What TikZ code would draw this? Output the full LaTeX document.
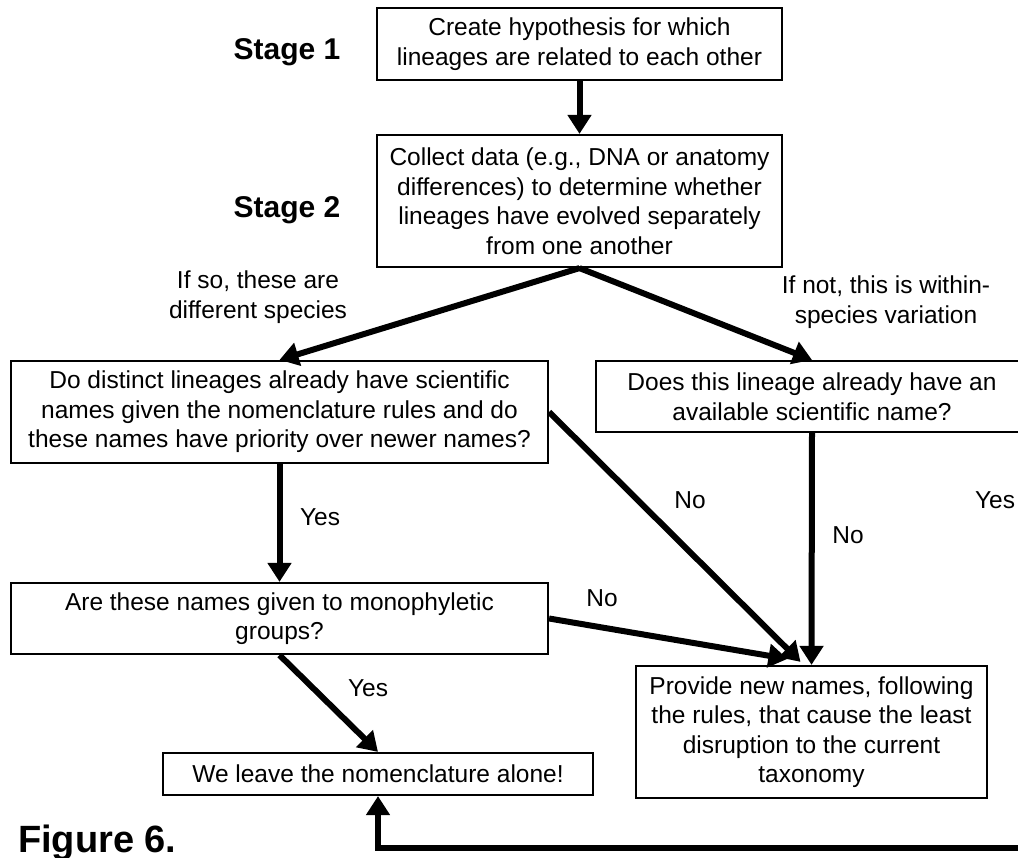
\documentclass[tikz,border=0pt]{standalone}
\usepackage{fontspec}
\setmainfont{Liberation Sans}
\usetikzlibrary{arrows.meta,calc}
\begin{document}
\begin{tikzpicture}[x=1pt,y=-1pt,
  box/.style={draw,line width=2.2pt,inner sep=0pt,align=center,
    font=\fontsize{24.5}{29.5}\selectfont},
  flow/.style={line width=6pt,-{Triangle[width=23pt,length=19pt]}},
  lbl/.style={align=center,inner sep=0pt,font=\fontsize{24.5}{29.5}\selectfont},
  stagelbl/.style={inner sep=0pt,font=\fontsize{30}{36}\selectfont\bfseries}]
\useasboundingbox (0,0) rectangle (1018,858);
\clip (0,0) rectangle (1018,858);
\fill[white] (0,0) rectangle (1018,858);

% stage headings
\node[stagelbl] (s1) at (287,52) {Stage 1};
\node[stagelbl] (s2) at (287,210) {Stage 2};
\node[inner sep=0pt,anchor=base west,font=\fontsize{38}{44}\selectfont\bfseries] (fig) at (18,852) {Figure 6.};

% boxes
\node[box,minimum width=405pt,minimum height=72pt] (b1) at (579.5,44)
  {Create hypothesis for which\\lineages are related to each other};
\node[box,minimum width=405pt,minimum height=132pt] (b2) at (579.5,201)
  {Collect data (e.g., DNA or anatomy\\differences) to determine whether\\lineages have evolved separately\\from one another};
\node[box,minimum width=537pt,minimum height=102pt] (b3) at (279.5,412)
  {Do distinct lineages already have scientific\\names given the nomenclature rules and do\\these names have priority over newer names?};
\node[box,minimum width=432pt,minimum height=71pt] (b4) at (812,396.5)
  {Does this lineage already have an\\available scientific name?};
\node[box,minimum width=537pt,minimum height=71pt] (b5) at (279.5,618.5)
  {Are these names given to monophyletic\\groups?};
\node[box,minimum width=351pt,minimum height=132pt] (b6) at (811.5,732)
  {Provide new names, following\\the rules, that cause the least\\disruption to the current\\taxonomy};
\node[box,minimum width=430pt,minimum height=42pt] (b7) at (378,774)
  {We leave the nomenclature alone!};

% arrow end points
\coordinate (m1) at ($(b6.north)+(-11,-3)$);
\coordinate (m2) at ($(b6.north)+(-24,-6)$);
\coordinate (re) at (1040,848);

% connectors
\draw[flow] (b1.south) -- (b2.north);
\draw[flow] (b2.south) -- (b3.north);
\draw[flow] (b2.south) -- (b4.north);
\draw[flow] (b3.south) -- (b5.north);
\draw[flow] (b3.east) -- (m1);
\draw[flow] (b5.east) -- (m2);
\draw[flow] (b4.south) -- (b6.north);
\draw[flow] (b5.south) -- (b7.north);
\draw[flow] (re) -- (b7.south |- re) -- (b7.south);

% connector labels
\node[lbl] (l1) at (258,297) {If so, these are\\different species};
\node[lbl] (l2) at (886,302) {If not, this is within-\\species variation};
\node[lbl] (l3) at (320,517) {Yes};
\node[lbl] (l4) at (690,500) {No};
\node[lbl] (l5) at (848,535) {No};
\node[lbl] (l6) at (995,500) {Yes};
\node[lbl] (l7) at (602,598) {No};
\node[lbl] (l8) at (368,688) {Yes};
\end{tikzpicture}
\end{document}
